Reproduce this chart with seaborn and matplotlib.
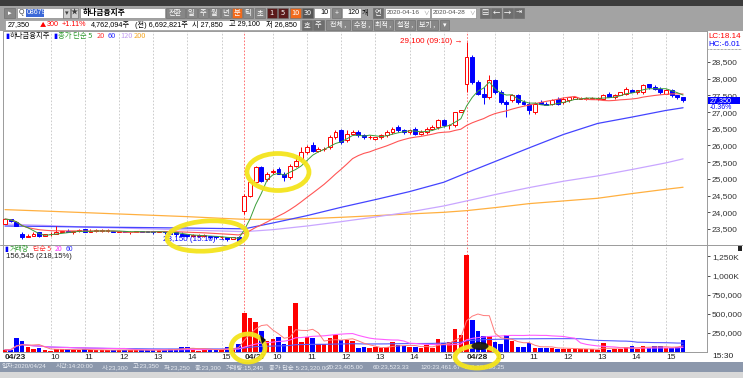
import numpy as np
import pandas as pd
import matplotlib
matplotlib.use('Agg')
import matplotlib.pyplot as plt
from matplotlib import font_manager
from matplotlib.patches import Rectangle, Ellipse, Polygon
import seaborn as sns

sns.set_theme(style='white')
plt.rcParams['font.family'] = ['Noto Sans CJK KR', 'DejaVu Sans']
avail = {f.name for f in font_manager.fontManager.ttflist}
NUM = 'Liberation Sans Narrow' if 'Liberation Sans Narrow' in avail else 'Liberation Sans'
NUMF = [NUM, 'Noto Sans CJK KR', 'DejaVu Sans']
KR = ['Noto Sans CJK KR', 'DejaVu Sans']

# ---------------- data (10-minute bars, 하나금융지주) ----------------
opens = [23650, 23800, 23700,
         23350, 23250, 23300, 23400, 23300, 23350, 23350, 23400, 23450, 23400,
         23450, 23500, 23400, 23450, 23450, 23450, 23450, 23400, 23450, 23400,
         23400, 23450, 23450, 23450, 23400, 23450, 23400, 23400, 23350, 23350,
         23300, 23300, 23300, 23300, 23300, 23250, 23250, 23200, 23250,
         24050, 24500, 24900, 25350, 25000, 25200, 25300, 25150, 25050, 25400,
         25600, 25800, 26000, 25850, 25900, 25950, 26250, 26450, 26150, 26350,
         26400, 26300, 26250, 26200, 26250, 26300, 26400, 26550, 26450, 26400,
         26500, 26350, 26400, 26500, 26550, 26750, 26600, 26600, 27000,
         27850, 28650, 27900, 27550, 27450, 27950, 27600, 27300, 27350, 27500,
         27300, 27250, 27000, 27300, 27250, 27250, 27400, 27300, 27350, 27400,
         27400, 27400, 27400, 27400, 27400, 27550, 27450, 27500, 27550, 27650,
         27600, 27600, 27850, 27750, 27700, 27550, 27650, 27500, 27450]
highs = [23800, 23800, 23750,
         23400, 23350, 23400, 23400, 23350, 23400, 23600, 23450, 23500, 23450,
         23500, 23500, 23500, 23500, 23500, 23500, 23450, 23450, 23450, 23450,
         23450, 23450, 23450, 23450, 23450, 23450, 23450, 23400, 23400, 23350,
         23350, 23350, 23350, 23300, 23300, 23300, 23250, 23250, 23300,
         24550, 24950, 25400, 25400, 25200, 25300, 25350, 25200, 25450, 25700,
         25950, 26000, 26100, 25950, 25950, 26300, 26450, 26500, 26450, 26450,
         26450, 26350, 26300, 26250, 26350, 26450, 26550, 26600, 26500, 26500,
         26550, 26450, 26550, 26600, 26800, 26800, 26650, 27000, 27050,
         29100, 28700, 27950, 27750, 28100, 28000, 27650, 27350, 27550, 27550,
         27350, 27300, 27300, 27350, 27300, 27400, 27450, 27450, 27450, 27450,
         27450, 27450, 27450, 27450, 27550, 27600, 27550, 27600, 27750, 27700,
         27650, 27850, 27850, 27800, 27750, 27700, 27700, 27500, 27450]
lows = [23650, 23700, 23600,
        23200, 23250, 23300, 23250, 23300, 23300, 23350, 23400, 23400, 23350,
        23400, 23400, 23400, 23400, 23400, 23400, 23400, 23400, 23400, 23350,
        23400, 23400, 23400, 23350, 23400, 23350, 23350, 23300, 23300, 23250,
        23250, 23250, 23250, 23200, 23200, 23200, 23150, 23200, 23150,
        23950, 24450, 24850, 24900, 24950, 25150, 25150, 24950, 25000, 25350,
        25550, 25750, 25800, 25800, 25850, 25900, 26200, 26050, 26100, 26300,
        26250, 26200, 26200, 26150, 26200, 26250, 26350, 26400, 26350, 26350,
        26300, 26300, 26350, 26450, 26500, 26550, 26500, 26550, 27000,
        27600, 27850, 27500, 27250, 27400, 27550, 27250, 26850, 27300, 27250,
        27200, 26950, 26950, 27250, 27200, 27200, 27200, 27250, 27300, 27400,
        27400, 27350, 27400, 27350, 27400, 27450, 27400, 27500, 27500, 27600,
        27550, 27550, 27700, 27650, 27550, 27550, 27450, 27400, 27300]
closes = [23800, 23750, 23600,
          23250, 23300, 23350, 23300, 23350, 23350, 23400, 23450, 23400, 23450,
          23450, 23400, 23450, 23450, 23450, 23450, 23400, 23450, 23400, 23400,
          23450, 23400, 23400, 23400, 23450, 23400, 23350, 23350, 23300, 23300,
          23300, 23300, 23300, 23250, 23250, 23250, 23200, 23250, 23150,
          24500, 24900, 25350, 24950, 25150, 25250, 25150, 25050, 25400, 25550,
          25800, 25950, 25850, 25900, 25900, 26250, 26400, 26100, 26350, 26400,
          26300, 26250, 26250, 26250, 26300, 26400, 26500, 26450, 26400, 26450,
          26350, 26400, 26500, 26550, 26750, 26600, 26600, 27000, 27050,
          28650, 27900, 27550, 27450, 27950, 27600, 27300, 27250, 27500, 27300,
          27250, 27050, 27250, 27250, 27200, 27350, 27250, 27400, 27450, 27450,
          27400, 27400, 27400, 27400, 27500, 27450, 27500, 27600, 27700, 27600,
          27650, 27800, 27750, 27700, 27600, 27650, 27500, 27450, 27350]
volumes_k = [30, 25, 180,
             150, 60, 45, 50, 30, 15, 40, 40, 45, 25, 30, 35, 20, 30, 25, 20, 30,
             25, 30, 20, 25, 30, 20, 25, 30, 25, 45, 35, 65, 60, 40, 15, 40, 30,
             35, 35, 60, 55, 100,
             515, 450, 395, 270, 150, 175, 200, 105, 340, 640, 130, 190, 185, 105,
             110, 185, 220, 155, 155, 150, 50, 65, 50, 65, 55, 65, 125, 90, 80, 70,
             60, 50, 95, 55, 175, 115, 130, 305, 220,
             1275, 415, 270, 205, 210, 135, 110, 225, 150, 60, 60, 115, 55, 55, 55,
             55, 45, 45, 42, 38, 38, 35, 35, 30, 115, 25, 45, 45, 65, 72, 38, 85,
             55, 85, 72, 50, 55, 68, 156.545]

# long moving averages at hourly points (bar index, value)
ma_idx = [0, 8, 14, 20, 26, 32, 38, 42, 47, 53, 59, 65, 71, 77, 81, 86, 92, 98, 104, 110, 116, 119]
ma60_pts = [23590, 23575, 23560, 23550, 23540, 23528, 23515, 23505, 23680, 23900, 24150, 24380,
            24620, 24900, 25180, 25520, 25930, 26330, 26660, 26850, 27050, 27130]
ma120_pts = [23650, 23600, 23560, 23530, 23500, 23470, 23440, 23420, 23480, 23590, 23720, 23860,
             24010, 24190, 24340, 24530, 24740, 24930, 25090, 25280, 25480, 25600]
ma200_pts = [24080, 24030, 23990, 23950, 23910, 23870, 23820, 23790, 23790, 23810, 23850, 23900,
             23950, 24000, 24050, 24140, 24260, 24340, 24420, 24560, 24690, 24750]

tick_pos = [0, 8, 14, 20, 26, 32, 38, 42, 47, 53, 59, 65, 71, 77, 81, 86, 92, 98, 104, 110, 116]
tick_labels = ['04/23', '10', '11', '12', '13', '14', '15', '04/27', '10', '11', '12', '13', '14',
               '15', '04/28', '10', '11', '12', '13', '14', '15']
price_ticks = [23500, 24000, 24500, 25000, 25500, 26000, 26500, 27000, 27500, 28000, 28500]
vol_ticks = [250000, 500000, 750000, 1000000, 1250000]
vol_tick_labels = ['250,000', '500,000', '750,000', '1,000K', '1,250K']

# ---------------- derived ----------------
o = np.array(opens, float); h = np.array(highs, float)
l = np.array(lows, float); c = np.array(closes, float)
v = np.array(volumes_k, float) * 1000
n = len(c)
x = np.arange(n)
df = pd.DataFrame({'x': x, 'close': c, 'vol': v})
df['ma5'] = df['close'].rolling(5, min_periods=1).mean()
df['ma20'] = df['close'].rolling(20, min_periods=1).mean()
df['v5'] = df['vol'].rolling(5, min_periods=1).mean()
df['v20'] = df['vol'].rolling(20, min_periods=1).mean()
df['v60'] = df['vol'].rolling(60, min_periods=1).mean()
up = c >= o

RED = '#ff0000'
BLUE = '#0000ff'

W, H = 743, 378
fig = plt.figure(figsize=(W / 100, H / 100), dpi=100)

def fr(x0, y0, x1, y1):
    return [x0 / W, 1 - y1 / H, (x1 - x0) / W, (y1 - y0) / H]

ui = fig.add_axes([0, 0, 1, 1], zorder=0)
ui.set_xlim(0, W); ui.set_ylim(H, 0); ui.axis('off')

def rect(x0, y0, x1, y1, fc, ec='none', lw=0.5, z=1, axx=None):
    (axx or ui).add_patch(Rectangle((x0, y0), x1 - x0, y1 - y0, facecolor=fc,
                                    edgecolor=ec, linewidth=lw, zorder=z))

def label(x0, y0, s, color='black', size=5.5, ha='left', weight='normal', fam=None, axx=None, z=3):
    (axx or ui).text(x0, y0, s, color=color, fontsize=size, ha=ha, va='center',
                     fontweight=weight, family=fam or KR, zorder=z)

# window background
rect(0, 0, W, H, 'white', z=0)
rect(0, 0, W, 6, '#3c3c3c')
rect(0, 6, W, 31, '#a3a3a3')
rect(0, 362, W, 372, '#8c98ac')
rect(0, 372, W, H, '#d8d8d8')

# toolbar row 1
def btn(x0, x1, s, fc='#878787', tc='white', y0=8, y1=18, size=5.2):
    rect(x0, y0, x1, y1, fc, ec='#6a6a6a', lw=0.4, z=2)
    label((x0 + x1) / 2, (y0 + y1) / 2, s, color=tc, size=size, ha='center')

btn(4, 15, '▸')
rect(17, 8, 63, 18, 'white', ec='#7a7a7a', lw=0.4, z=2)
label(19, 13, 'Q', color='#404040', size=5, fam=NUMF)
rect(26, 9.3, 44, 16.7, '#3b68d8', z=3)
label(27, 13, '086790', color='white', size=5.0, fam=NUMF, z=4)
btn(63, 70, '▾', fc='#d0d0d0', tc='#404040')
btn(71, 78, '★', fc='#d0d0d0', tc='#404040')
rect(80, 8, 165, 18, 'white', ec='#7a7a7a', lw=0.4, z=2)
label(83, 13, '하나금융지주', color='black', size=5.6, weight='bold')
btn(166, 185, '전환')
for x0, s in [(186, '일'), (197.5, '주'), (209, '월'), (220.5, '년')]:
    btn(x0, x0 + 10.5, s)
btn(232, 242, '분', fc='#f26a1b')
btn(243, 253, '틱')
btn(254.5, 264.5, '초')
btn(266.5, 277, '1', fc='#5b1a1a')
btn(278, 288, '5', fc='#5b1a1a')
btn(289.5, 301, '10', fc='#f26a1b')
btn(302, 313, '30', fc='#555555')
rect(314, 8, 330, 18, 'white', ec='#7a7a7a', lw=0.4, z=2)
label(329, 13, '10', ha='right', size=5.2, fam=NUMF)
btn(331.5, 341, '+')
rect(342, 8, 361, 18, 'white', ec='#7a7a7a', lw=0.4, z=2)
label(360, 13, '120', ha='right', size=5.2, fam=NUMF)
label(361.5, 13, '개', size=5.0)
btn(373, 383, '연', fc='#6e6e6e')
for x0, s in [(385, '2020-04-16'), (431, '2020-04-28')]:
    rect(x0, 8, x0 + 45, 18, 'white', ec='#7a7a7a', lw=0.4, z=2)
    label(x0 + 2, 13, s, color='#505050', size=4.6, fam=NUMF)
    label(x0 + 41.5, 13, '∨', color='#909090', size=4.0, ha='center', fam=NUMF)
for x0, s in [(480, '▤'), (491, '←'), (502.5, '→'), (514, '⇥')]:
    btn(x0, x0 + 10, s, fc='#6e6e6e')

# toolbar row 2
rect(5, 20, 300, 30, 'white', ec='#8a8a8a', lw=0.4, z=2)
prev_close = closes[80]
chg = closes[-1] - prev_close
label(8, 25, f'{closes[-1]:,}', size=5.2, fam=NUMF)
label(40, 25, '▲', color=RED, size=4.5)
label(47, 25, f'{chg:,}', color=RED, size=5.2, fam=NUMF)
label(62, 25, f'+{chg / prev_close * 100:.2f}%', color=RED, size=5.2, fam=NUMF)
label(91, 25, '4,762,094주', size=5.2, fam=NUMF)
label(135, 25, '(전) 6,692,821주', size=5.2, fam=NUMF)
label(192, 25, f'시 {opens[81]:,}', size=5.2, fam=NUMF)
label(229, 25, f'고 {max(highs[81:]):,}', size=5.2, fam=NUMF)
label(266, 25, f'저 {min(lows[81:]):,}', size=5.2, fam=NUMF)
btn(301.5, 312, '호', fc='#6e6e6e', y0=20, y1=30)
btn(313, 323.5, '주', fc='#6e6e6e', y0=20, y1=30)
for x0, x1, s in [(326, 350, '전체 ,'), (351.5, 372, '수정 ,'), (374, 393, '최적 ,'),
                  (395, 414.5, '설정 ,'), (416.5, 437.5, '보기 ,'), (439.5, 449, '▾')]:
    btn(x0, x1, s, y0=20, y1=30, size=5.0)

# ---------------- chart axes ----------------
ax = fig.add_axes(fr(3, 31, 707, 245), zorder=2)
axv = fig.add_axes(fr(3, 245, 707, 352), zorder=2, sharex=ax)
for a in (ax, axv):
    a.set_facecolor('white')
    for s in a.spines.values():
        s.set_color('#9a9a9a'); s.set_linewidth(0.7)
ax.set_xlim(-0.35, 123.2)
ax.set_ylim(23021, 29428)
axv.set_ylim(0, 1400000)

# grid lines
for p, lab in zip(tick_pos, tick_labels):
    if p == 0:
        continue
    col = '#ff5a5a' if '/' in lab else '#c4c4c4'
    for a in (ax, axv):
        a.axvline(p, color=col, linestyle=(0, (2, 2)), linewidth=0.6, zorder=1)

# candles
ax.vlines(x, l, h, colors=np.where(up, RED, BLUE), linewidth=0.7, zorder=3)
body_b = np.minimum(o, c)
body_h = np.maximum(np.abs(c - o), 8)
ax.bar(x, body_h, bottom=body_b, width=0.68, color=np.where(up, 'white', BLUE),
       edgecolor=np.where(up, RED, BLUE), linewidth=0.7, zorder=4)

# moving averages
sns.lineplot(x=ma_idx, y=ma200_pts, ax=ax, color='#ffb040', linewidth=0.9, zorder=2)
sns.lineplot(x=ma_idx, y=ma120_pts, ax=ax, color='#c9a6ff', linewidth=0.9, zorder=2)
sns.lineplot(x=ma_idx, y=ma60_pts, ax=ax, color='#4444ff', linewidth=0.9, zorder=2)
sns.lineplot(data=df, x='x', y='ma20', ax=ax, color='#ff5555', linewidth=0.8, zorder=5)
sns.lineplot(data=df, x='x', y='ma5', ax=ax, color='#3a9e3a', linewidth=0.7, zorder=5)

# volume
axv.bar(x, v, width=0.8, color=np.where(up, RED, BLUE), linewidth=0, zorder=3)
sns.lineplot(data=df, x='x', y='v60', ax=axv, color='#5a5aff', linewidth=0.8, zorder=4)
sns.lineplot(data=df, x='x', y='v20', ax=axv, color='#ff5cff', linewidth=0.8, zorder=4)
sns.lineplot(data=df, x='x', y='v5', ax=axv, color='#ff7a7a', linewidth=0.7, zorder=4)

# axis ticks
for a in (ax, axv):
    a.set_xlabel(''); a.set_ylabel('')
    a.yaxis.tick_right()
    a.tick_params(axis='y', direction='out', length=2, width=0.6, pad=1.5,
                  labelsize=6, colors='#333333')
ax.set_yticks(price_ticks)
ax.set_yticklabels([f'{t:,}' for t in price_ticks], family=NUMF)
axv.set_yticks(vol_ticks)
axv.set_yticklabels(vol_tick_labels, family=NUMF)
ax.tick_params(axis='x', bottom=False, labelbottom=False)
axv.set_xticks(tick_pos)
axv.set_xticklabels(tick_labels, family=NUMF)
axv.tick_params(axis='x', length=0, pad=1.5, labelsize=6, colors='#222222')
for t, lab in zip(axv.get_xticklabels(), tick_labels):
    t.set_ha('left')
    if '/' in lab:
        t.set_fontweight('bold')
ax.set_xlim(-0.35, 123.2)

# high / low markers
hi = int(np.argmax(h)); lo = int(np.argmin(l))
ax.text(hi - 0.7, h[hi], f'{int(h[hi]):,} (09:10) →', color=RED, fontsize=5.8,
        ha='right', va='center', family=NUMF, zorder=6)
ax.text(lo - 0.2, l[lo] + 40, f'{int(l[lo]):,} (15:10) →', color=BLUE, fontsize=5.8,
        ha='right', va='center', family=NUMF, zorder=6)

# legends inside panels
for xx, s, col in [(5, '▮', BLUE), (9.5, '하나금융지주', '#111111'), (53, '▮', BLUE),
                   (58.5, '종가 단순 5', '#2f9a2f'), (97, '20', '#ff3333'), (108, '60', '#3333ff'),
                   (120, '120', '#c29cf2'), (134, '200', '#f5a623')]:
    fig.text(xx / W, 1 - 36 / H, s, color=col, fontsize=5.3, va='center', family=KR, zorder=6)
for xx, s, col in [(4, '▮', BLUE), (10, '거래량', '#2f9a2f'), (33, '단순 5', '#ff3333'),
                   (55, '20', '#ff33ff'), (66, '60', '#3333ff')]:
    fig.text(xx / W, 1 - 249 / H, s, color=col, fontsize=5.0, va='center', family=KR, zorder=6)
fig.text(6 / W, 1 - 257 / H, f'{int(v[-1]):,} (218,15%)', color='#222222', fontsize=5.6,
         va='center', family=NUMF, zorder=6)

# right side labels
fig.text(708 / W, 1 - 37 / H, 'LC:18.14', color=RED, fontsize=5.8, va='center', family=NUMF, zorder=6)
fig.text(708 / W, 1 - 44 / H, 'HC:-6.01', color=BLUE, fontsize=5.8, va='center', family=NUMF, zorder=6)
ui.plot([708, 741], [48.5, 48.5], color='#555555', linestyle=(0, (1, 1)), linewidth=0.5, zorder=3)
ytr = ax.get_yaxis_transform()
ax.add_patch(Rectangle((1.0014, c[-1] - 95), 0.0455, 190, transform=ytr, facecolor=BLUE,
                       edgecolor='none', clip_on=False, zorder=7))
ax.text(1.004, c[-1] - 10, f'{int(c[-1]):,}', transform=ytr, color='white', fontsize=5.2,
        va='center', ha='left', family=NUMF, clip_on=False, zorder=8)
pct = (c[-1] - c[-2]) / c[-2] * 100
ax.text(1.004, c[-1] - 225, f'{pct:.2f}%', transform=ytr, color=BLUE, fontsize=5.0,
        va='center', ha='left', family=NUMF, clip_on=False, zorder=8)
label(712, 357, '15:30', color='#222222', size=6, fam=NUMF)
rect(738, 246, 742, 251, '#222222', z=3)
ui.plot([0, W], [245, 245], color='#9a9a9a', linewidth=0.7, zorder=1)

# status bar
for xx, s in [(2, '일자:2020/04/24'), (56, '시간:14:20:00'), (102, '시:23,300'), (133, '고:23,350'),
              (164, '저:23,250'), (195, '종:23,300'), (226, '거래량:15,245'),
              (269, '종가 단순 5:23,320.00'), (327, '20:23,405.00'), (373, '60:23,523.33'),
              (420, '120:23,461.67'), (465, '200:23,856.25')]:
    label(xx, 367, s, color='#e9edf3', size=4.5, fam=NUMF, z=3)

# hand-drawn highlights
ov = fig.add_axes([0, 0, 1, 1], zorder=10)
ov.set_xlim(0, W); ov.set_ylim(H, 0); ov.axis('off')
YEL = '#f4e41c'
for cx, cy, ww, hh, ang in [(207, 236, 80, 30, -4), (278, 172, 62, 37, 0),
                            (248, 348, 34, 28, 0), (477, 357, 44, 22, 0)]:
    ov.add_patch(Ellipse((cx, cy), ww, hh, angle=ang, fill=False, edgecolor=YEL,
                         linewidth=3.4, alpha=0.95))
ov.add_patch(Ellipse((480, 346), 17, 8, facecolor='#111111', edgecolor='none', alpha=0.9))
ov.add_patch(Polygon([[260, 335], [266, 340], [262, 344]], closed=True,
                     facecolor='#111111', edgecolor='none'))

fig.savefig('out.png', dpi=100)
